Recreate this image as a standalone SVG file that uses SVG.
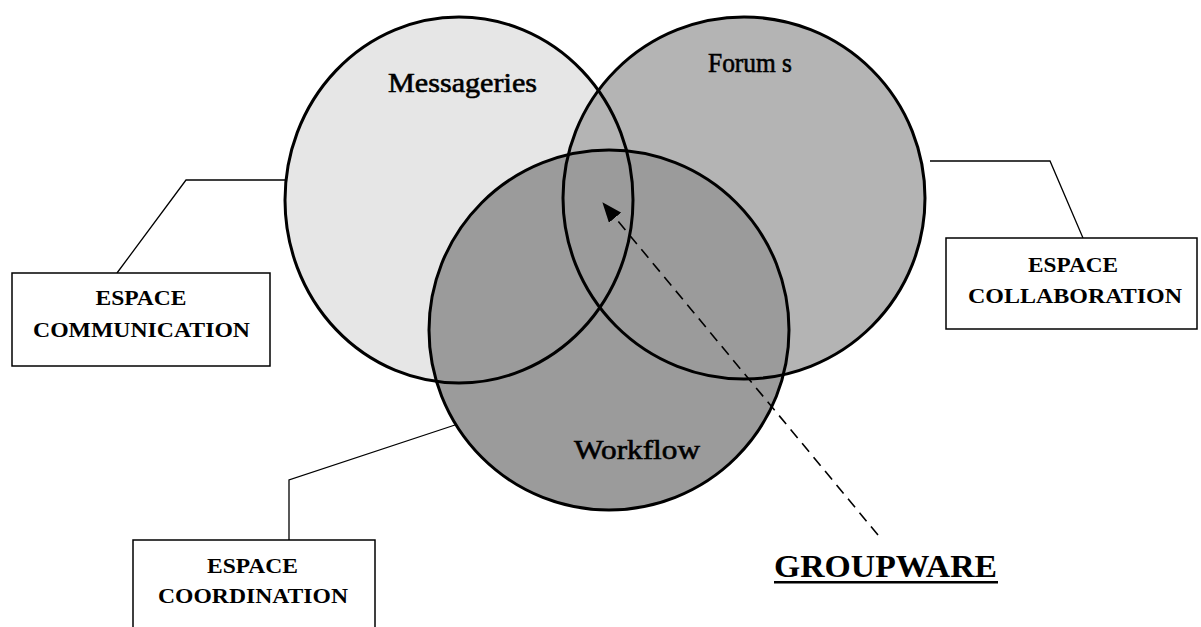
<svg xmlns="http://www.w3.org/2000/svg" width="1201" height="627" viewBox="0 0 1201 627">
<style>
.circ{stroke:#000;stroke-width:3;fill:none}
.box{fill:#fff;stroke:#000;stroke-width:1.5}
.lead{fill:none;stroke:#000;stroke-width:1.3}
.lbl{font-family:"Liberation Serif","Times New Roman",serif;font-weight:bold;font-size:22px;fill:#000}
.ctext{font-family:"Liberation Serif","Times New Roman",serif;font-size:28px;fill:#000;stroke:#000;stroke-width:0.6}
</style>
<defs>
<marker id="ah" viewBox="0 0 20 16" refX="19" refY="8" markerWidth="20" markerHeight="16" orient="auto" markerUnits="userSpaceOnUse">
<path d="M0,0 L20,8 L0,16 z" fill="#000"/>
</marker>
</defs>
<rect width="1201" height="627" fill="#fff"/>
<g id="fills">
<ellipse cx="459" cy="200" rx="174" ry="183" fill="#e6e6e6"/>
<circle cx="744" cy="198" r="181" fill="#b4b4b4"/>
<circle cx="609" cy="330" r="180" fill="#9b9b9b"/>
</g>
<g id="messageries">
<ellipse class="circ" cx="459" cy="200" rx="174" ry="183"/>
<text class="ctext" x="388" y="92" textLength="149" lengthAdjust="spacingAndGlyphs">Messageries</text>
</g>
<g id="forums">
<circle class="circ" cx="744" cy="198" r="181"/>
<text class="ctext" x="708" y="72" textLength="84" lengthAdjust="spacingAndGlyphs">Forum s</text>
</g>
<g id="workflow">
<circle class="circ" cx="609" cy="330" r="180"/>
<text class="ctext" x="574" y="459" textLength="126" lengthAdjust="spacingAndGlyphs">Workflow</text>
</g>
<g id="connectors">
<polyline class="lead" points="117,273 186,180 287,180"/>
<polyline class="lead" points="930,161 1050,161 1083,238"/>
<polyline class="lead" points="289,540 289,480 455,425"/>
<line x1="878" y1="535" x2="603" y2="203" stroke="#000" stroke-width="1.6" stroke-dasharray="11 7" marker-end="url(#ah)"/>
</g>
<g id="espace-communication">
<rect class="box" x="12" y="273" width="258" height="93"/>
<text class="lbl" x="141" y="305" text-anchor="middle" textLength="91" lengthAdjust="spacingAndGlyphs">ESPACE</text>
<text class="lbl" x="33" y="337" textLength="217" lengthAdjust="spacingAndGlyphs">COMMUNICATION</text>
</g>
<g id="espace-collaboration">
<rect class="box" x="946" y="238" width="251" height="91"/>
<text class="lbl" x="1028" y="272" textLength="90" lengthAdjust="spacingAndGlyphs">ESPACE</text>
<text class="lbl" x="968" y="303" textLength="214" lengthAdjust="spacingAndGlyphs">COLLABORATION</text>
</g>
<g id="espace-coordination">
<rect class="box" x="133" y="540" width="242" height="100"/>
<text class="lbl" x="207" y="573" textLength="91" lengthAdjust="spacingAndGlyphs">ESPACE</text>
<text class="lbl" x="158" y="603" textLength="190" lengthAdjust="spacingAndGlyphs">COORDINATION</text>
</g>
<g id="groupware">
<text x="774" y="577" font-family="'Liberation Serif','Times New Roman',serif" font-weight="bold" font-size="32" textLength="223" lengthAdjust="spacingAndGlyphs">GROUPWARE</text>
<rect x="774" y="581" width="224" height="2.5" fill="#000"/>
</g>
</svg>
